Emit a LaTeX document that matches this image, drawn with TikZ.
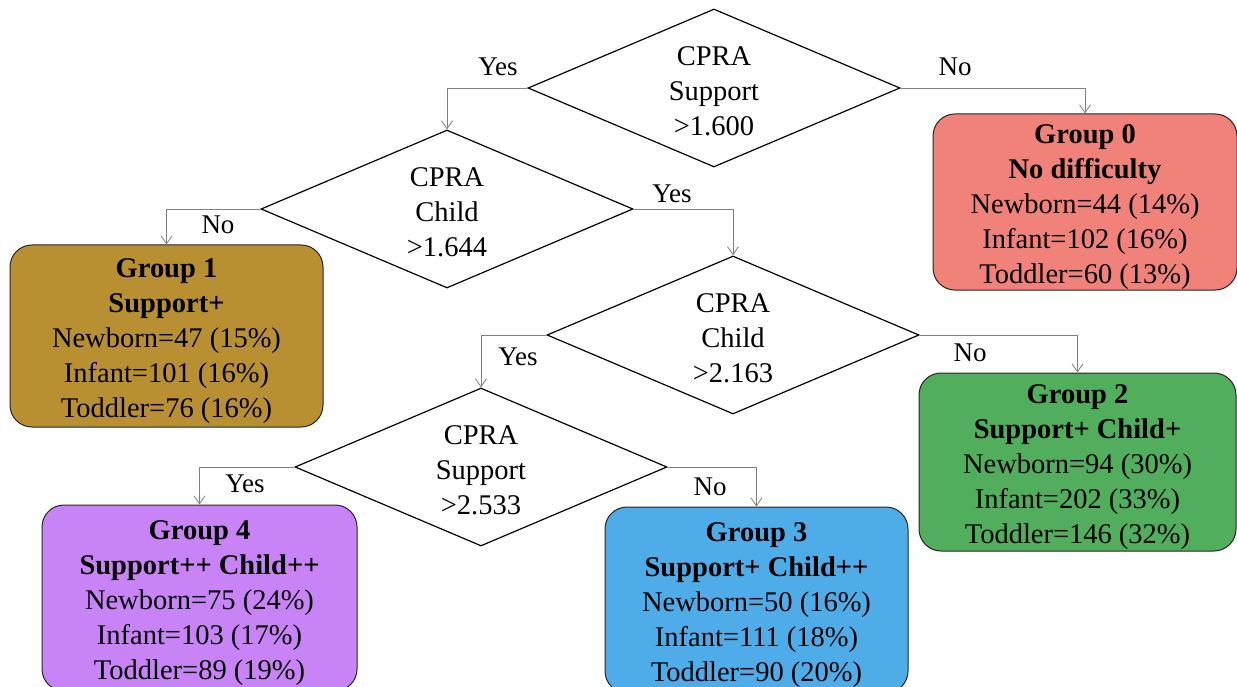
\documentclass[tikz,border=0pt]{standalone}
\usepackage{fontspec}
\setmainfont{Liberation Serif}
\usetikzlibrary{shapes.geometric,arrows.meta}
\definecolor{czero}{RGB}{240,130,122}
\definecolor{cone}{RGB}{184,144,50}
\definecolor{ctwo}{RGB}{80,174,92}
\definecolor{cthree}{RGB}{78,172,232}
\definecolor{cfour}{RGB}{200,132,246}
\definecolor{conncol}{RGB}{128,128,128}
\newcommand{\topstrut}{\rule{0pt}{30pt}}
\tikzset{
  decision/.style={diamond, draw=black, line width=1.2pt, fill=white, aspect=2.35,
    minimum width=372pt, minimum height=158pt, inner sep=0pt, align=center,
    font=\fontsize{28.5}{35}\selectfont},
  grp/.style={rectangle, rounded corners=22pt, draw=black!85, line width=1pt,
    inner sep=0pt, align=center, font=\fontsize{28.5}{35}\selectfont},
  conn/.style={draw=conncol, line width=0.8pt, -{Straight Barb[length=8pt,width=11pt]}},
  lbl/.style={font=\fontsize{27}{32}\selectfont, inner sep=0pt}
}
\begin{document}
\begin{tikzpicture}[x=1pt,y=-1pt]
\useasboundingbox (0,0) rectangle (1237,687);
\clip (0,0) rectangle (1237,687);
\fill[white] (0,0) rectangle (1237,687);

% decisions
\node[decision] (d1) at (714,88) {\rule{0pt}{25pt}CPRA\\Support\\>1.600};
\node[decision] (d2) at (447,209) {\rule{0pt}{25pt}CPRA\\Child\\>1.644};
\node[decision] (d3) at (733,335) {\rule{0pt}{25pt}CPRA\\Child\\>2.163};
\node[decision] (d4) at (481,467) {\rule{0pt}{25pt}CPRA\\Support\\>2.533};

% groups
\node[grp, fill=czero, minimum width=304pt, minimum height=176pt] (g0) at (1085,202)
  {\topstrut\textbf{Group 0}\\\textbf{No difficulty}\\Newborn=44 (14\%)\\Infant=102 (16\%)\\Toddler=60 (13\%)};
\node[grp, fill=cone, minimum width=313pt, minimum height=182pt] (g1) at (166.5,336)
  {\topstrut\textbf{Group 1}\\\textbf{Support+}\\Newborn=47 (15\%)\\Infant=101 (16\%)\\Toddler=76 (16\%)};
\node[grp, fill=ctwo, minimum width=317pt, minimum height=178pt] (g2) at (1077.5,462)
  {\topstrut\textbf{Group 2}\\\textbf{Support+ Child+}\\Newborn=94 (30\%)\\Infant=202 (33\%)\\Toddler=146 (32\%)};
\node[grp, fill=cthree, minimum width=303pt, minimum height=186pt] (g3) at (756.5,600)
  {\topstrut\textbf{Group 3}\\\textbf{Support+ Child++}\\Newborn=50 (16\%)\\Infant=111 (18\%)\\Toddler=90 (20\%)};
\node[grp, fill=cfour, minimum width=315pt, minimum height=186pt] (g4) at (199.5,598)
  {\topstrut\textbf{Group 4}\\\textbf{Support++ Child++}\\Newborn=75 (24\%)\\Infant=103 (17\%)\\Toddler=89 (19\%)};

% connectors
\draw[conn] (d1.west) -| (d2.north);
\draw[conn] (d1.east) -| (g0.north);
\draw[conn] (d2.west) -| (g1.north);
\draw[conn] (d2.east) -| (d3.north);
\draw[conn] (d3.west) -| (d4.north);
\draw[conn] (d3.east) -| (g2.north);
\draw[conn] (d4.west) -| (g4.north);
\draw[conn] (d4.east) -| (g3.north);

% labels
\node[lbl] (l1) at (498,67) {Yes};
\node[lbl] (l2) at (955,67) {No};
\node[lbl] (l3) at (218,225) {No};
\node[lbl] (l4) at (672,194) {Yes};
\node[lbl] (l5) at (518,357) {Yes};
\node[lbl] (l6) at (970,353) {No};
\node[lbl] (l7) at (245,484) {Yes};
\node[lbl] (l8) at (710,487) {No};
\end{tikzpicture}
\end{document}
